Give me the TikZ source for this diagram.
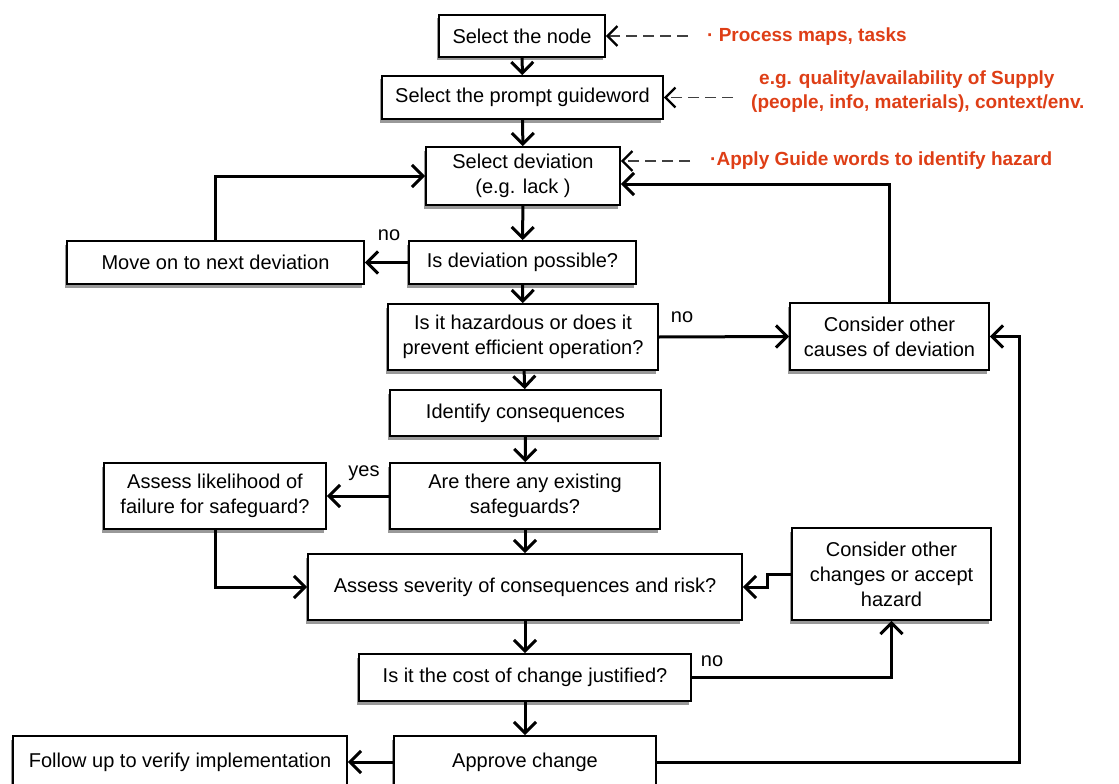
\documentclass[tikz,border=0pt]{standalone}
\usepackage{fontspec}
\setmainfont{Liberation Sans}
\usetikzlibrary{arrows.meta,shadows}
\definecolor{notered}{RGB}{222,62,22}

\begin{document}
\begin{tikzpicture}[x=1pt,y=-1pt,
  box/.style={draw,line width=1.8pt,fill=white,align=center,inner sep=0pt,
    font=\fontsize{20}{25}\selectfont,
    drop shadow={shadow xshift=-2.5pt,shadow yshift=-3.5pt,fill=black!40,opacity=1}},
  flow/.style={line width=3pt,-{Straight Barb[length=11pt,width=22pt]}},
  hint/.style={line width=1.6pt,black!75,dash pattern=on 11pt off 6pt,
    -{Straight Barb[length=10pt,width=20pt,line width=2.2pt,black]}},
  note/.style={notered,font=\bfseries\fontsize{19}{24}\selectfont,align=left,inner sep=0pt},
  answer/.style={font=\fontsize{20}{24}\selectfont,inner sep=0pt}]
  \useasboundingbox (0,0) rectangle (1119,784);

  % main column
  \node[box,minimum width=166pt,minimum height=42pt] (selnode) at (522,36) {Select the node};
  \node[box,minimum width=281pt,minimum height=43pt] (guide) at (522.5,97.5) {Select the prompt guideword};
  \node[box,minimum width=194pt,minimum height=58pt] (dev) at (523,176) {Select deviation\\(e.g. lack )};
  \node[box,minimum width=227pt,minimum height=43pt] (possible) at (522.5,262.5) {Is deviation possible?};
  \node[box,minimum width=270pt,minimum height=66pt] (hazard) at (523,337) {Is it hazardous or does it\\prevent efficient operation?};
  \node[box,minimum width=271pt,minimum height=46pt] (conseq) at (525.5,413) {Identify consequences};
  \node[box,minimum width=270pt,minimum height=66pt] (safeg) at (525,496) {Are there any existing\\safeguards?};
  \node[box,minimum width=434pt,minimum height=66pt] (severity) at (525,587) {Assess severity of consequences and risk?};
  \node[box,minimum width=332pt,minimum height=47pt] (cost) at (525,677.5) {Is it the cost of change justified?};
  \node[box,minimum width=262pt,minimum height=52pt] (approve) at (525,762) {Approve change};

  % side boxes
  \node[box,minimum width=297pt,minimum height=43pt] (moveon) at (215.5,262.5) {Move on to next deviation};
  \node[box,minimum width=199pt,minimum height=67pt] (causes) at (889.5,336.5) {Consider other\\causes of deviation};
  \node[box,minimum width=222pt,minimum height=66pt] (likeli) at (215,496) {Assess likelihood of\\failure for safeguard?};
  \node[box,minimum width=199pt,minimum height=92pt] (changes) at (891.5,574) {Consider other\\changes or accept\\hazard};
  \node[box,minimum width=334pt,minimum height=52pt] (follow) at (180,762) {Follow up to verify implementation};

  % notes
  \coordinate (hproc) at (688,36);
  \coordinate (hguide) at (733,97.5);
  \coordinate (hdev) at (690,161);
  \node[note,anchor=west] (nproc) at (707,37) {· Process maps, tasks};
  \node[note,anchor=north west] (nguide) at (751,71) {\hspace{8pt}e.g. quality/availability of Supply\\(people, info, materials), context/env.};
  \node[note,anchor=west] (ndev) at (710,161) {·Apply Guide words to identify hazard};
  \draw[hint] (hproc) -- (selnode.east);
  \draw[hint] (hguide) -- (guide.east);
  \draw[hint] (hdev) -- ([yshift=15pt]dev.east);

  % flow down
  \draw[flow] (selnode) -- (guide);
  \draw[flow] (guide) -- (dev);
  \draw[flow] (dev) -- (possible);
  \draw[flow] (possible) -- (hazard);
  \draw[flow] (hazard) -- (conseq);
  \draw[flow] (conseq) -- (safeg);
  \draw[flow] (safeg) -- (severity);
  \draw[flow] (severity) -- (cost);
  \draw[flow] (cost) -- (approve);

  % branches
  \draw[flow] (possible.west) -- (moveon.east);
  \node[answer] (no1) at (389,235) {no};
  \draw[flow] (moveon.north) |- (dev.west);
  \draw[flow] (hazard.east) -- (causes.west);
  \node[answer] (no2) at (682,317) {no};
  \draw[flow] (causes.north) |- ([yshift=-8pt]dev.east);
  \draw[flow] (safeg.west) -- (likeli.east);
  \node[answer] (yes1) at (364,473) {yes};
  \draw[flow] (likeli.south) |- (severity.west);
  \draw[flow] (cost.east) -| (changes.south);
  \node[answer] (no3) at (712,661) {no};
  \draw[flow] (changes.west) -- ++(-24,0) |- (severity.east);
  \draw[flow] (approve.west) -- (follow.east);
  \coordinate (rail) at (1019,336.5);
  \draw[flow] (approve.east) -| (rail) -- (causes.east);
\end{tikzpicture}
\end{document}
